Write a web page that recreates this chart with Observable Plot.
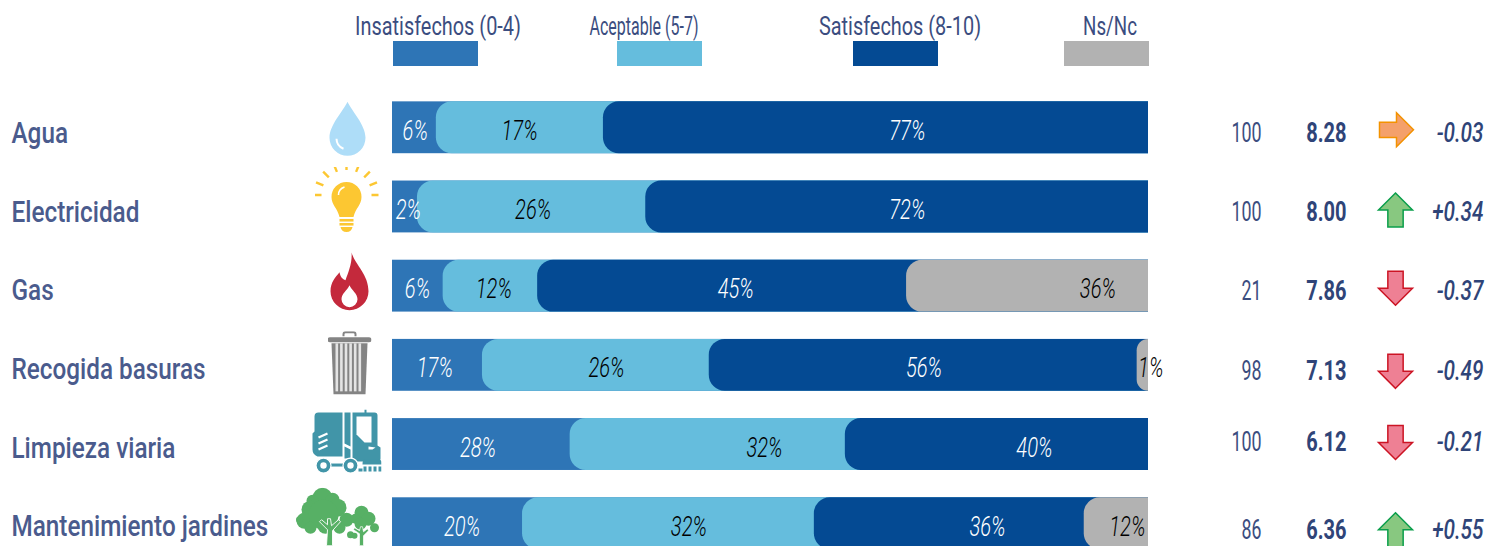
<!DOCTYPE html>
<html><head><meta charset="utf-8">
<script src="https://cdn.jsdelivr.net/npm/d3@7"></script>
<script src="https://cdn.jsdelivr.net/npm/@observablehq/plot@0.6"></script>
<style>
html,body{margin:0;padding:0;background:#fff;overflow:hidden}
#legend{position:relative;width:1492px;height:92px;font-family:"Roboto",sans-serif;color:#3B4D80}
#legend .k{position:absolute;top:41px;width:85px;height:25px}
#legend .t{position:absolute;top:11px;font-size:26px;line-height:30px;white-space:nowrap;font-weight:400}
svg{display:block}
</style></head><body>
<div id="legend"></div>
<div id="chart"></div>
<script>
const categories = ["Agua","Electricidad","Gas","Recogida basuras","Limpieza viaria","Mantenimiento jardines"];
const groups = ["Insatisfechos (0-4)","Aceptable (5-7)","Satisfechos (8-10)","Ns/Nc"];
// widths of the visible blocks (percent of the bar)
const insatisfechos = [5.8, 3.3, 6.7, 11.9, 23.5, 17.2];
const aceptable     = [22.1, 30.2, 12.5, 30.0, 36.4, 38.6];
const satisfechos   = [72.1, 66.5, 48.8, 56.6, 40.1, 35.7];
const nsnc          = [0, 0, 32, 1.5, 0, 8.5];
// printed labels
const labelInsat = ["6%","2%","6%","17%","28%","20%"];
const labelAcep  = ["17%","26%","12%","26%","32%","32%"];
const labelSat   = ["77%","72%","45%","56%","40%","36%"];
const labelNs    = ["","","36%","1%","","12%"];
// where each label sits on the bar's axis
const atInsat = [3, 2.1, 3.3, 5.6, 11.3, 9.2];
const atAcep  = [16.8, 18.6, 13.4, 28.3, 49.2, 39.2];
const atSat   = [68.1, 68.1, 45.4, 70.3, 84.9, 78.7];
const atNs    = [0, 0, 93.3, 100.3, 0, 97.2];
const respondents = [100,100,21,98,100,86];
const scores = ["8.28","8.00","7.86","7.13","6.12","6.36"];
const deltas = ["-0.03","+0.34","-0.37","-0.49","-0.21","+0.55"];
const trends = ["flat","up","down","down","down","up"];

const colors = ["#2E75B6","#65BDDD","#044A93","#B2B2B2"];
const labelColors = ["#fff","#000","#fff","#000"];
const ink = "#3B4D80", catInk="#4A5B8D";
const FONT = '"Roboto",sans-serif';

// legend
const legend = document.getElementById("legend");
[[393,438,.765],[617,644,.615],[853,900,.765],[1064,1110,.72]].forEach(([l,c,f],i)=>{
  legend.insertAdjacentHTML("beforeend",
   `<div class="t" style="left:${c}px;transform:translateX(-50%) scaleX(${f})">${groups[i]}</div><div class="k" style="left:${l}px;background:${colors[i]}"></div>`);
});

const series = [insatisfechos,aceptable,satisfechos,nsnc];
const segs = [];
categories.forEach((c,i)=>{
  let s=0;
  series.forEach((a,k)=>{ if(a[i]>0){ segs.push({c,k,start:s}); } s+=a[i]; });
});
const labels = [];
[[labelInsat,atInsat],[labelAcep,atAcep],[labelSat,atSat],[labelNs,atNs]].forEach(([t,a],k)=>{
  categories.forEach((c,i)=>{ if(t[i]) labels.push({c,k,t:t[i],x:a[i]}); });
});
const rows = categories.map((c,i)=>({c,n:respondents[i],score:scores[i],delta:deltas[i],trend:trends[i]}));

const arrow = {
  up:{draw(p,size){const s=Math.sqrt(size/Math.PI);p.moveTo(0,-s);p.lineTo(s,0);p.lineTo(s*.45,0);p.lineTo(s*.45,s);p.lineTo(-s*.45,s);p.lineTo(-s*.45,0);p.lineTo(-s,0);p.closePath();}},
  down:{draw(p,size){const s=Math.sqrt(size/Math.PI);p.moveTo(0,s);p.lineTo(s,0);p.lineTo(s*.45,0);p.lineTo(s*.45,-s);p.lineTo(-s*.45,-s);p.lineTo(-s*.45,0);p.lineTo(-s,0);p.closePath();}},
  flat:{draw(p,size){const s=Math.sqrt(size/Math.PI);p.moveTo(s,0);p.lineTo(0,s);p.lineTo(0,s*.45);p.lineTo(-s,s*.45);p.lineTo(-s,-s*.45);p.lineTo(0,-s*.45);p.lineTo(0,-s);p.closePath();}}
};
const arrowStyle = {up:["#88C880","#0A9E4B"],down:["#EE8094","#CC1424"],flat:["#F4A06B","#F39200"]};

const svgURI = (w,h,body)=>"data:image/svg+xml;utf8,"+encodeURIComponent(`<svg xmlns="http://www.w3.org/2000/svg" viewBox="0 0 ${w} ${h}" width="${w}" height="${h}">${body}</svg>`);
const rays = d3.range(9).map(i=>{const a=(-180+i*22.5)*Math.PI/180,r1=25,r2=33;
  return `<line x1="${32+r1*Math.cos(a)}" y1="${28+r1*Math.sin(a)}" x2="${32+r2*Math.cos(a)}" y2="${28+r2*Math.sin(a)}" stroke="#FCC732" stroke-width="2.4"/>`}).join("");
const bars = d3.range(6).map(i=>`<rect x="${8+i*4.6}" y="12" width="2.6" height="48" fill="#E4E4E4"/>`).join("");
const wheel = (x)=>`<circle cx="${x}" cy="56" r="7.5" fill="#4195A8" stroke="#fff" stroke-width="1.2"/><circle cx="${x}" cy="56" r="3.2" fill="#fff"/>`;
const icons = [
 svgURI(40,56,`<path d="M20 1C16 10 2 24 2 37a18 18 0 0 0 36 0C38 24 24 10 20 1Z" fill="#AEDDF8"/><path d="M9 38a11 11 0 0 0 7 10" stroke="#fff" stroke-width="2" fill="none"/>`),
 svgURI(64,66,rays+`<path d="M32 15a15 15 0 0 0-15 15c0 8 6 11 8 20h14c2-9 8-12 8-20a15 15 0 0 0-15-15Z" fill="#FCC732"/><rect x="25" y="52" width="14" height="2.6" fill="#FCC732"/><rect x="25" y="56" width="14" height="2.6" fill="#FCC732"/><path d="M26 60h12q-1 5-6 5t-6-5Z" fill="#FCC732"/><path d="M24 28q0-6 6-8" stroke="#fff" stroke-width="1.6" fill="none"/>`),
 svgURI(40,60,`<path d="M22 0C25 12 39 22 39 39a19 19 0 0 1-38 0C1 30 6 25 10 20c1 5 3 7 6 8C19 20 23 10 22 0Z" fill="#C4293C"/><path d="M20 33c2 5 8 8 8 14a8 8 0 0 1-16 0c0-6 6-9 8-14Z" fill="#fff"/>`),
 svgURI(44,64,`<path d="M16 5v-2q0-2 2-2h8q2 0 2 2v2" stroke="#848484" stroke-width="2" fill="none"/><rect x="0" y="6" width="44" height="5" rx="2.5" fill="#848484"/><path d="M4 12h36l-2 51H6Z" fill="#848484"/>${bars}`),
 svgURI(70,64,`<path d="M3 22V7q0-4 4-4h24v44H6q-5-2-5-7V24Z" fill="#4195A8"/><path d="M33 3h6v34l-6-3Z" fill="#4195A8"/><path d="M33 37l6 3v9h-6Z" fill="#4195A8"/><path d="M41 3h22q3 0 3 3v30l3 2v11q0 3-3 3H41ZM53 0h2v3h-2Z" fill="#4195A8"/><path d="M45 7h15v26h-7l-8-8Z" fill="#fff"/><path d="M57 37l7 1-3 2h-4Z" fill="#fff"/><path d="M7 28l9-4M7 34l9-4M7 40l9-4" stroke="#fff" stroke-width="2.2"/><rect x="16" y="54" width="26" height="3" fill="#4195A8"/>${wheel(12)}${wheel(39)}<path d="M53 50h14q3 0 3 3v2H51q0-5 2-5ZM52 57h3v5h-3ZM57 57h3v5h-3ZM62 57h3v5h-3ZM67 57h3v5h-3ZM47 59h4v3h-4Z" fill="#4195A8"/>`),
 svgURI(86,58,`<g fill="#57B065"><circle cx="27" cy="10" r="10"/><circle cx="17" cy="13" r="6"/><circle cx="37" cy="12" r="7"/><circle cx="15" cy="22" r="9"/><circle cx="42" cy="20" r="9"/><circle cx="9" cy="33" r="8"/><circle cx="4" cy="32" r="3.5"/><circle cx="51" cy="32" r="7"/><circle cx="28" cy="27" r="15"/><circle cx="15" cy="40" r="6"/><circle cx="44" cy="40" r="6"/><circle cx="30" cy="38" r="8"/><circle cx="66" cy="25" r="7"/><circle cx="60" cy="31" r="5"/><circle cx="73" cy="31" r="7"/><circle cx="65" cy="36" r="6"/><circle cx="79" cy="40" r="4.5"/><circle cx="55" cy="47" r="3.5"/><circle cx="59" cy="48" r="3"/><path d="M31 58l1-16-8-8 2-2 6 5 0-6h3l1 7 7-6 2 2-8 9 0 15Z" stroke="#fff" stroke-width=".9"/><path d="M64 58V46l-6-4 1-2 5 3 1-4h2l1 5 4-3 1 2-5 5 0 10Z" stroke="#fff" stroke-width=".7"/></g>`)
];
const iconRows = [
 {c:categories[0],dx:-45,dy:1,w:40,h:56},{c:categories[1],dx:-46,dy:-7,w:64,h:66},
 {c:categories[2],dx:-43,dy:-4,w:40,h:60},{c:categories[3],dx:-43,dy:-2,w:44,h:64},
 {c:categories[4],dx:-46,dy:-3,w:70,h:64},{c:categories[5],dx:-54,dy:-7,w:86,h:58}
].map((d,i)=>({...d,src:icons[i]}));

const catNudge = [6,5,4,4,4,3];
const numNudge = [6,5,5,6,-2,7];
const arrowNudge = [2,3,2,6,-2,6];
const perRow = (f)=>rows.map((r,i)=>f(r,i));
// narrow the installed font's glyphs to the reference's condensed look
const narrow = (k)=>(index,scales,values,dim,ctx,next)=>{const g=next(index,scales,values,dim,ctx);g.setAttribute("data-narrow",k);return g;};

const chart = Plot.plot({
  width:1492, height:454, marginTop:0, marginBottom:0, marginLeft:0, marginRight:0,
  style:{fontFamily:FONT, background:"#fff", overflow:"hidden"},
  x:{domain:[0,100], range:[392,1148], axis:null},
  y:{domain:categories, range:[0,466.5], paddingInner:.345, paddingOuter:.118, round:false, axis:null},
  marks:[
    ...[0,1,2,3].map(k=>Plot.barX(segs.filter(d=>d.k===k),{
      x1:"start", x2:()=>100, y:"c", fill:colors[k], rx1:k?16:0, inset:0
    })),
    ...[0,1,2,3].map(k=>Plot.text(labels.filter(d=>d.k===k),{
      x:"x", y:"c", text:"t", fill:labelColors[k], fontSize:28, fontWeight:300, fontStyle:"italic", dy:3, render:narrow(.72)
    })),
    ...perRow((r,i)=>Plot.text([r],{x:()=>0,y:"c",text:"c",dx:-381,textAnchor:"start",fontSize:30,fontWeight:500,fill:catInk,dy:catNudge[i],render:narrow(.81)})),
    ...iconRows.map(d=>Plot.image([d],{x:()=>0,y:"c",src:"src",width:d.w,height:d.h,dx:d.dx,dy:d.dy})),
    ...perRow((r,i)=>Plot.text([r],{x:()=>100,y:"c",text:"n",dx:113,textAnchor:"end",fontSize:27,fontWeight:400,fill:ink,dy:numNudge[i],render:narrow(.66)})),
    ...perRow((r,i)=>Plot.text([r],{x:()=>100,y:"c",text:"score",dx:198,textAnchor:"end",fontSize:27,fontWeight:"bold",fill:"#2F4478",dy:numNudge[i],render:narrow(.74)})),
    ...perRow((r,i)=>Plot.text([r],{x:()=>100,y:"c",text:"delta",dx:335,textAnchor:"end",fontSize:27,fontStyle:"italic",fontWeight:500,fill:"#2F4478",dy:numNudge[i],render:narrow(.77)})),
    ...perRow((r,i)=>Plot.dot([r],{x:()=>100,y:"c",symbol:arrow[r.trend],r:17,dx:r.trend==="flat"?248:247,dy:arrowNudge[i],
      fill:arrowStyle[r.trend][0],stroke:arrowStyle[r.trend][1],strokeWidth:1.5,fillOpacity:1}))
  ]
});
document.getElementById("chart").appendChild(chart);
chart.querySelectorAll("g[data-narrow]").forEach(g=>{
  const f=+g.getAttribute("data-narrow");
  g.querySelectorAll("text").forEach(t=>{
    t.setAttribute("textLength",(t.getComputedTextLength()*f).toFixed(1));
    t.setAttribute("lengthAdjust","spacingAndGlyphs");
  });
});
</script></body></html>
